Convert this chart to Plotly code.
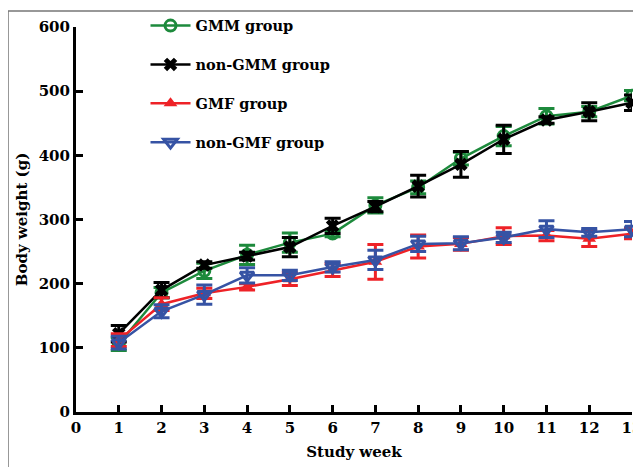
import plotly.graph_objects as go

weeks = [1, 2, 3, 4, 5, 6, 7, 8, 9, 10, 11, 12, 13]

gmm_mean = [106, 186, 220, 245, 264, 278, 322, 350, 395, 430, 461, 468, 493]
gmm_err = [10, 8, 12, 15, 15, 5, 12, 10, 10, 15, 12, 8, 8]

nongmm_mean = [122, 190, 229, 243, 257, 290, 320, 352, 386, 425, 455, 468, 482]
nongmm_err = [13, 12, 5, 6, 15, 12, 8, 17, 20, 22, 5, 14, 12]

gmf_mean = [112, 168, 185, 195, 207, 221, 234, 258, 262, 274, 275, 270, 278]
gmf_err = [10, 10, 8, 5, 10, 10, 27, 18, 10, 13, 8, 12, 8]

nongmf_mean = [108, 157, 183, 213, 213, 226, 237, 262, 263, 272, 285, 280, 285]
nongmf_err = [10, 10, 15, 12, 8, 8, 15, 12, 10, 8, 13, 6, 12]

names = ["GMM group", "non-GMM group", "GMF group", "non-GMF group"]
colors = ["#1d8a3c", "#000000", "#ee2227", "#3653a4"]

FONT = "DejaVu Serif"

fig = go.Figure()

series = [
    (gmm_mean, gmm_err, dict(symbol="circle-open", size=11, line=dict(width=3))),
    (nongmm_mean, nongmm_err, dict(symbol="x", size=12, line=dict(width=0))),
    (gmf_mean, gmf_err, dict(symbol="triangle-up", size=12, line=dict(width=0))),
    (nongmf_mean, nongmf_err, dict(symbol="triangle-down-open", size=12, line=dict(width=3))),
]

for i, (m, e, mk) in enumerate(series):
    mk = dict(mk)
    mk["color"] = colors[i]
    mk["line"] = dict(mk["line"], color=colors[i])
    fig.add_trace(go.Scatter(
        x=weeks, y=m, name=names[i], mode="lines+markers",
        line=dict(color=colors[i], width=2.5),
        marker=mk,
        error_y=dict(type="data", array=e, visible=True, color=colors[i],
                     thickness=3, width=8),
        cliponaxis=False,
        legendgroup=names[i],
    ))

# the page adds an 8px body margin, so the figure is sized to fill the rest
fig.update_layout(
    width=633, height=459,
    margin=dict(l=68, r=9, t=19, b=55, autoexpand=False),
    paper_bgcolor="white", plot_bgcolor="white",
    font=dict(family=FONT, size=15, color="black"),
    showlegend=True,
    legend=dict(x=0.125, y=1.045, xanchor="left", yanchor="top", itemwidth=40,
                font=dict(family=FONT, size=14.5, color="black", weight="bold"),
                tracegroupgap=17, bgcolor="rgba(0,0,0,0)"),
    xaxis=dict(range=[0, 13], tickmode="array", tickvals=list(range(0, 14)),
               showgrid=False, zeroline=False, showline=True, linecolor="black",
               linewidth=3, ticks="inside", ticklen=7, tickwidth=2.5, tickcolor="black",
               ticklabeloverflow="allow",
               tickfont=dict(family=FONT, size=15, color="black", weight="bold"),
               title=dict(text="Study week", standoff=11,
                          font=dict(family=FONT, size=15, color="black", weight="bold"))),
    yaxis=dict(range=[0, 600], tickmode="array", tickvals=[0, 100, 200, 300, 400, 500, 600],
               showgrid=False, zeroline=False, showline=True, linecolor="black",
               linewidth=3, ticks="inside", ticklen=7, tickwidth=2.5, tickcolor="black",
               tickfont=dict(family=FONT, size=15, color="black", weight="bold"),
               title=dict(text="Body weight (g)", standoff=8,
                          font=dict(family=FONT, size=15, color="black", weight="bold"))),
)

# outer frame of the figure image
fig.add_shape(type="rect", xref="paper", yref="paper",
              x0=-68 / 556, x1=1.2, y0=-0.3, y1=1 + 16 / 385,
              line=dict(color="#777777", width=1.5), fillcolor="rgba(0,0,0,0)",
              layer="below")

fig.write_html("out.html")
